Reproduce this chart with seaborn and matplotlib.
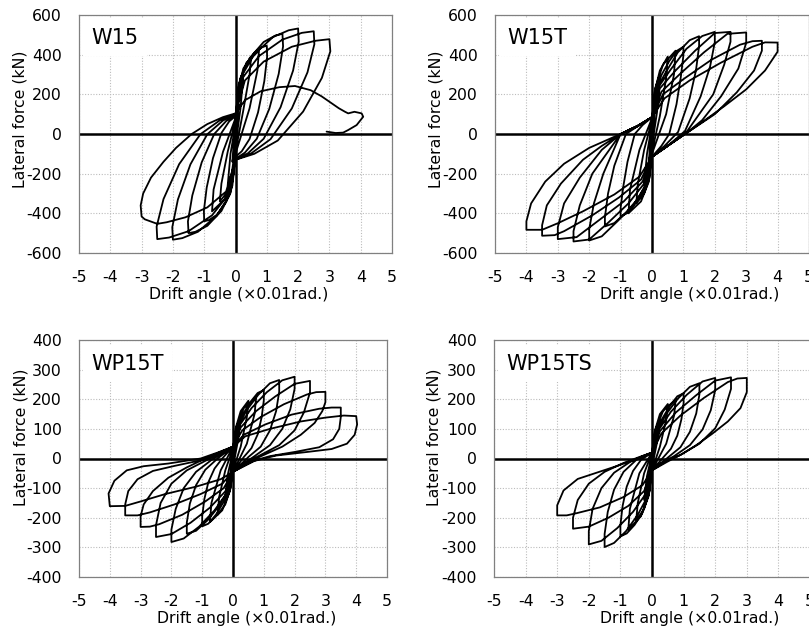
import matplotlib
matplotlib.use("Agg")
import matplotlib.pyplot as plt
import seaborn as sns

# ---------------- data (drift in 0.01 rad, lateral force in kN) ----------------
panel_names = ["W15", "W15T", "WP15T", "WP15TS"]
x_ticks = [-5, -4, -3, -2, -1, 0, 1, 2, 3, 4, 5]
y_ticks_W = [-600, -400, -200, 0, 200, 400, 600]
y_ticks_WP = [-400, -300, -200, -100, 0, 100, 200, 300, 400]

W15_path = [
    (0, 0),
    (0.05, 110), (0.1, 150), (0.06, 60), (0, -40), (-0.05, -100), (-0.1, -140), (-0.06, -50), (0, 30),
    (0.12, 230), (0.25, 300), (0.16, 130), (0, -60), (-0.12, -200), (-0.25, -260), (-0.16, -100), (0, 50),
    (0.08, 220), (0.25, 330), (0.5, 390), (0.45, 300), (0.25, 120), (0, -90),
    (-0.08, -220), (-0.25, -290), (-0.5, -340), (-0.45, -250), (-0.25, -90), (0, 70),
    (0.1, 240), (0.35, 360), (0.75, 420), (0.7, 320), (0.45, 130), (0, -100),
    (-0.1, -240), (-0.35, -330), (-0.75, -390), (-0.7, -280), (-0.4, -90), (0, 80),
    (0.1, 250), (0.3, 338), (0.6, 410), (0.85, 438), (1.0, 445), (1.01, 389), (0.92, 266), (0.72, 109),
    (0.45, -25), (0.2, -87), (0, -115),
    (-0.1, -261), (-0.3, -343), (-0.6, -408), (-0.85, -434), (-1.0, -440), (-1.01, -387), (-0.92, -270),
    (-0.72, -122), (-0.45, 5), (-0.2, 64), (0, 90),
    (0.15, 280), (0.45, 382), (0.9, 464), (1.28, 497), (1.5, 505), (1.52, 442), (1.38, 303), (1.08, 127),
    (0.68, -24), (0.3, -94), (0, -125),
    (-0.15, -294), (-0.45, -388), (-0.9, -463), (-1.28, -493), (-1.5, -500), (-1.52, -441), (-1.38, -310),
    (-1.08, -143), (-0.68, 0), (-0.3, 65), (0, 95),
    (0.2, 294), (0.6, 402), (1.2, 489), (1.7, 523), (2.0, 532), (2.02, 466), (1.84, 320), (1.44, 135),
    (0.9, -24), (0.4, -97), (0, -130),
    (-0.2, -311), (-0.6, -412), (-1.2, -493), (-1.7, -525), (-2.0, -533), (-2.02, -470), (-1.84, -330),
    (-1.44, -153), (-0.9, -1), (-0.4, 68), (0, 100),
    (0.25, 288), (0.75, 393), (1.5, 476), (2.12, 510), (2.5, 518), (2.52, 453), (2.3, 311), (1.8, 129),
    (1.12, -26), (0.5, -98), (0, -130),
    (-0.25, -310), (-0.75, -410), (-1.5, -490), (-2.12, -522), (-2.5, -530), (-2.52, -467), (-2.3, -328),
    (-1.8, -152), (-1.12, -1), (-0.5, 69), (0, 100),
    (0.3, 270), (0.9, 365), (1.8, 440), (2.55, 470), (3.0, 478), (3.03, 417), (2.76, 283), (2.16, 113),
    (1.35, -33), (0.6, -100), (0, -130),
    (-0.3, -290), (-0.9, -370), (-1.6, -420), (-2.2, -445), (-2.5, -453), (-2.9, -430), (-3.0, -416),
    (-3.03, -360), (-2.95, -300), (-2.7, -220), (-2.3, -140), (-1.9, -70), (-1.4, 0), (-0.9, 50),
    (-0.4, 85), (0, 104),
    (0.3, 170), (0.8, 215), (1.4, 236), (1.9, 242), (2.4, 221), (2.75, 190), (3.0, 163), (3.3, 130),
    (3.5, 112), (3.6, 104), (3.8, 112), (4.03, 104), (4.08, 87), (3.87, 45), (3.6, 20), (3.44, 7),
    (3.2, 5), (2.91, 12),
]

W15T_path = [
    (0, 0),
    (0.05, 100), (0.1, 150), (0.06, 50), (0, -40), (-0.05, -100), (-0.1, -140), (-0.06, -50), (0, 30),
    (0.12, 220), (0.25, 280), (0.16, 110), (0, -60), (-0.12, -200), (-0.25, -260), (-0.16, -100), (0, 50),
    (0.08, 210), (0.25, 320), (0.5, 390), (0.45, 280), (0.25, 90), (0, -90),
    (-0.08, -220), (-0.25, -300), (-0.5, -350), (-0.45, -250), (-0.25, -80), (0, 70),
    (0.1, 230), (0.35, 350), (0.75, 420), (0.7, 300), (0.45, 100), (0, -100),
    (-0.1, -240), (-0.35, -340), (-0.75, -400), (-0.7, -280), (-0.4, -80), (0, 80),
    (0.1, 208), (0.3, 297), (0.55, 368), (0.8, 420), (1.0, 440), (1.0, 396), (0.92, 290), (0.78, 150),
    (0.55, 0), (0.3, -60), (0, -115),
    (-0.1, -221), (-0.3, -295), (-0.55, -355), (-0.8, -400), (-1.0, -416), (-1.0, -374), (-0.92, -270),
    (-0.78, -140), (-0.55, 0), (-0.3, 45), (0, 85),
    (0.15, 228), (0.45, 314), (0.82, 411), (1.2, 473), (1.5, 493), (1.5, 444), (1.4, 320), (1.2, 180),
    (0.83, 10), (0.4, -60), (0, -115),
    (-0.15, -240), (-0.45, -326), (-0.82, -395), (-1.2, -449), (-1.5, -466), (-1.5, -420), (-1.4, -300),
    (-1.2, -160), (-0.83, 0), (-0.4, 45), (0, 85),
    (0.2, 236), (0.6, 326), (1.1, 430), (1.6, 494), (2.0, 515), (2.0, 463), (1.85, 340), (1.55, 190),
    (1.05, 15), (0.5, -60), (0, -115),
    (-0.2, -263), (-0.6, -360), (-1.1, -440), (-1.6, -516), (-2.0, -537), (-2.0, -480), (-1.85, -350),
    (-1.55, -200), (-1.0, 0), (-0.45, 42), (0, 85),
    (0.25, 230), (0.75, 320), (1.38, 421), (2.0, 509), (2.5, 515), (2.5, 465), (2.3, 350), (1.95, 200),
    (1.1, 10), (0.5, -60), (0, -115),
    (-0.25, -250), (-0.75, -350), (-1.38, -445), (-2.0, -532), (-2.5, -542), (-2.5, -490), (-2.3, -360),
    (-1.9, -200), (-1.0, 0), (-0.45, 42), (0, 85),
    (0.3, 213), (0.9, 304), (1.65, 411), (2.4, 505), (3.0, 512), (3.0, 460), (2.75, 330), (2.2, 190),
    (1.6, 70), (1.1, 5), (0.5, -60), (0, -115),
    (-0.3, -240), (-0.9, -340), (-1.65, -430), (-2.4, -520), (-3.0, -530), (-3.0, -470), (-2.8, -350),
    (-2.3, -220), (-1.6, -80), (-1.0, 0), (-0.45, 42), (0, 85),
    (0.35, 200), (1.05, 282), (1.9, 375), (2.8, 450), (3.2, 468), (3.5, 470), (3.5, 420), (3.25, 320),
    (2.7, 210), (2.0, 100), (1.1, 5), (0.5, -60), (0, -115),
    (-0.35, -230), (-1.05, -320), (-1.9, -410), (-2.8, -490), (-3.1, -510), (-3.5, -513), (-3.5, -460),
    (-3.35, -360), (-2.9, -250), (-2.2, -130), (-1.6, -60), (-1.0, 0), (-0.45, 40), (0, 85),
    (0.4, 180), (1.2, 270), (2.2, 360), (3.2, 440), (3.6, 462), (4.0, 461), (4.0, 415), (3.6, 320),
    (3.0, 225), (2.3, 140), (1.6, 60), (1.1, 5), (0.5, -60), (0, -115),
    (-0.4, -215), (-1.2, -305), (-2.2, -390), (-3.0, -450), (-3.5, -483), (-4.0, -483), (-4.0, -440),
    (-3.85, -350), (-3.4, -240), (-2.8, -150), (-2.0, -70), (-1.0, 0), (-0.45, 40), (0, 85),
]

WP15T_path = [
    (0, 0),
    (0.05, 60), (0.1, 80), (0.06, 30), (0, -20), (-0.05, -50), (-0.1, -70), (-0.06, -25), (0, 15),
    (0.12, 110), (0.25, 140), (0.16, 60), (0, -30), (-0.12, -100), (-0.25, -130), (-0.16, -50), (0, 25),
    (0.08, 100), (0.25, 160), (0.5, 195), (0.45, 140), (0.25, 40), (0, -40),
    (-0.08, -100), (-0.25, -155), (-0.5, -190), (-0.45, -130), (-0.25, -40), (0, 35),
    (0.1, 100), (0.35, 170), (0.75, 205), (0.7, 150), (0.45, 50), (0, -45),
    (-0.1, -110), (-0.35, -175), (-0.75, -215), (-0.7, -150), (-0.4, -40), (0, 40),
    (0.1, 96), (0.3, 145), (0.55, 189), (0.8, 221), (1.0, 231), (1.0, 196), (0.93, 139), (0.8, 81),
    (0.6, 35), (0.35, 5), (0, -45),
    (-0.1, -100), (-0.3, -146), (-0.55, -189), (-0.8, -220), (-1.0, -229), (-1.0, -195), (-0.93, -137),
    (-0.8, -80), (-0.6, -34), (-0.35, 0), (0, 40),
    (0.15, 106), (0.45, 164), (0.82, 215), (1.2, 254), (1.5, 265), (1.5, 225), (1.4, 160), (1.2, 95),
    (0.9, 40), (0.5, 5), (0, -45),
    (-0.15, -107), (-0.45, -160), (-0.82, -208), (-1.2, -244), (-1.5, -254), (-1.5, -216), (-1.4, -152),
    (-1.2, -90), (-0.9, -38), (-0.5, 0), (0, 40),
    (0.2, 110), (0.6, 170), (1.1, 224), (1.6, 264), (2.0, 276), (2.0, 235), (1.86, 166), (1.6, 100),
    (1.2, 45), (0.7, 8), (0.3, -20), (0, -45),
    (-0.2, -116), (-0.6, -175), (-1.1, -230), (-1.6, -270), (-2.0, -282), (-2.0, -240), (-1.86, -170),
    (-1.6, -100), (-1.2, -45), (-0.7, -5), (-0.3, 20), (0, 40),
    (0.25, 105), (0.75, 160), (1.38, 210), (2.0, 252), (2.5, 262), (2.5, 223), (2.3, 155), (2.0, 95),
    (1.5, 45), (0.9, 12), (0.4, -15), (0, -45),
    (-0.25, -111), (-0.75, -166), (-1.38, -217), (-2.0, -255), (-2.5, -265), (-2.5, -225), (-2.35, -150),
    (-2.0, -85), (-1.5, -40), (-0.9, -8), (-0.4, 18), (0, 40),
    (0.3, 95), (0.9, 140), (1.65, 183), (2.4, 216), (2.7, 224), (3.0, 225), (3.0, 190), (2.9, 160),
    (2.65, 120), (2.2, 80), (1.6, 40), (1.0, 12), (0.5, -12), (0, -45),
    (-0.3, -100), (-0.9, -145), (-1.65, -190), (-2.4, -222), (-2.7, -230), (-3.0, -231), (-3.0, -195),
    (-2.9, -155), (-2.6, -110), (-2.1, -65), (-1.5, -30), (-1.0, -5), (-0.5, 18), (0, 40),
    (0.35, 80), (1.05, 115), (1.9, 148), (2.8, 168), (3.2, 172), (3.5, 172), (3.5, 140), (3.45, 100),
    (3.25, 65), (2.8, 38), (2.0, 22), (1.2, 8), (0.6, -10), (0, -45),
    (-0.35, -85), (-1.05, -120), (-1.9, -155), (-2.7, -182), (-3.1, -192), (-3.5, -192), (-3.5, -155),
    (-3.4, -110), (-3.1, -70), (-2.6, -42), (-1.9, -25), (-1.0, -5), (-0.5, 15), (0, 40),
    (0.4, 75), (1.2, 100), (2.2, 125), (3.0, 138), (3.6, 145), (4.0, 143), (4.03, 115), (3.95, 80),
    (3.7, 50), (3.2, 32), (2.4, 22), (1.4, 10), (0.7, -8), (0, -45),
    (-0.4, -70), (-1.2, -95), (-2.2, -120), (-3.0, -145), (-3.5, -160), (-4.0, -161), (-4.04, -118),
    (-3.85, -75), (-3.45, -40), (-2.9, -26), (-2.1, -17), (-1.05, 0), (-0.5, 20), (0, 40),
]

WP15TS_path = [
    (0, 0),
    (0.05, 60), (0.1, 80), (0.06, 30), (0, -20), (-0.05, -55), (-0.1, -80), (-0.06, -30), (0, 10),
    (0.12, 100), (0.25, 130), (0.16, 55), (0, -30), (-0.12, -105), (-0.25, -140), (-0.16, -60), (0, 15),
    (0.08, 90), (0.25, 150), (0.5, 184), (0.45, 130), (0.25, 40), (0, -40),
    (-0.08, -110), (-0.25, -170), (-0.5, -209), (-0.45, -150), (-0.25, -50), (0, 20),
    (0.1, 95), (0.35, 160), (0.75, 200), (0.7, 145), (0.45, 50), (0, -40),
    (-0.1, -120), (-0.35, -195), (-0.75, -240), (-0.7, -170), (-0.4, -50), (0, 20),
    (0.1, 80), (0.3, 130), (0.55, 175), (0.8, 210), (1.0, 220), (1.0, 187), (0.93, 132), (0.8, 77),
    (0.6, 33), (0.35, 3), (0, -40),
    (-0.1, -125), (-0.3, -183), (-0.55, -224), (-0.8, -253), (-1.0, -263), (-1.0, -225), (-0.93, -160),
    (-0.8, -95), (-0.6, -42), (-0.35, -5), (0, 20),
    (0.15, 90), (0.45, 150), (0.82, 202), (1.2, 242), (1.5, 254), (1.5, 216), (1.4, 152), (1.2, 90),
    (0.9, 38), (0.5, 3), (0, -40),
    (-0.15, -130), (-0.45, -190), (-0.82, -245), (-1.2, -285), (-1.5, -299), (-1.5, -255), (-1.4, -180),
    (-1.2, -105), (-0.9, -45), (-0.5, -5), (0, 20),
    (0.2, 95), (0.6, 158), (1.1, 215), (1.6, 260), (2.0, 272), (2.0, 231), (1.86, 163), (1.6, 98),
    (1.2, 45), (0.7, 8), (0.3, -15), (0, -40),
    (-0.2, -120), (-0.6, -180), (-1.1, -235), (-1.6, -278), (-2.0, -290), (-2.0, -245), (-1.88, -170),
    (-1.6, -100), (-1.2, -48), (-0.7, -12), (-0.3, 8), (0, 20),
    (0.25, 92), (0.75, 155), (1.38, 212), (2.0, 263), (2.5, 274), (2.5, 235), (2.3, 165), (2.0, 102),
    (1.5, 50), (0.9, 12), (0.4, -12), (0, -40),
    (-0.25, -110), (-0.75, -160), (-1.38, -200), (-2.0, -230), (-2.5, -237), (-2.5, -200), (-2.35, -140),
    (-2.0, -85), (-1.5, -45), (-0.9, -15), (-0.4, 5), (0, 20),
    (0.3, 85), (0.9, 145), (1.65, 205), (2.4, 258), (2.7, 270), (3.0, 272), (3.0, 224), (2.8, 170),
    (2.4, 125), (1.9, 83), (1.4, 45), (0.95, 15), (0.5, -10), (0, -40),
    (-0.3, -90), (-0.9, -130), (-1.65, -165), (-2.4, -185), (-2.7, -192), (-3.0, -192), (-3.0, -158),
    (-2.8, -108), (-2.35, -69), (-1.7, -46), (-1.1, -25), (-0.5, -2), (0, 20),
]

paths = [W15_path, W15T_path, WP15T_path, WP15TS_path]
y_tick_sets = [y_ticks_W, y_ticks_W, y_ticks_WP, y_ticks_WP]

# ---------------- style ----------------
sns.set_style("white")
plt.rcParams["font.family"] = ["DejaVu Sans"]
plt.rcParams["axes.unicode_minus"] = False
plt.rcParams["text.color"] = "black"
plt.rcParams["axes.labelcolor"] = "black"

W, H = 809, 635
fig = plt.figure(figsize=(W / 100, H / 100), dpi=100)

# axes boxes in pixels: left, right, top, bottom
boxes = [(79, 392, 15, 253), (495, 809, 15, 253), (79, 387, 340, 577), (494, 810, 340, 577)]
xlabel_x = [0.511, 0.62, 0.545, 0.62]
ylabel_y = [0.56, 0.56, 0.59, 0.59]

for i in range(4):
    l, r, t, b = boxes[i]
    ax = fig.add_axes([l / W, (H - b) / H, (r - l) / W, (b - t) / H])
    xs = [p[0] for p in paths[i]]
    ys = [p[1] for p in paths[i]]
    ax.set_axisbelow(True)
    ax.grid(True, color="#bcbcbc", linestyle=(0, (1, 1.5)), linewidth=0.8)
    ax.axhline(0, color="black", lw=1.8, zorder=2)
    ax.axvline(0, color="black", lw=1.8, zorder=2)
    sns.lineplot(x=xs, y=ys, sort=False, estimator=None, color="black",
                 linewidth=1.3, ax=ax, zorder=3)
    yt = y_tick_sets[i]
    ax.set_xlim(-5, 5)
    ax.set_ylim(yt[0], yt[-1])
    ax.set_xticks(x_ticks)
    ax.set_yticks(yt)
    ax.set_xticklabels([str(v) for v in x_ticks])
    ax.set_yticklabels([str(v) for v in yt])
    ax.tick_params(length=0, pad=12.5, labelsize=11.3, colors="black", labelcolor="black")
    for s in ax.spines.values():
        s.set_color("#808080")
        s.set_linewidth(0.9)
    ax.set_xlabel("Drift angle (×0.01rad.)", fontsize=11.3, labelpad=1, color="black")
    ax.set_ylabel("Lateral force (kN)", fontsize=11.3, color="black")
    ax.xaxis.set_label_coords(xlabel_x[i], -0.143)
    ax.yaxis.set_label_coords(-0.165, ylabel_y[i])
    ax.text(0.04, 0.905 if i < 2 else 0.9, panel_names[i], transform=ax.transAxes,
            fontsize=15, ha="left", va="center", zorder=4, color="black",
            bbox=dict(facecolor="white", edgecolor="none", boxstyle="square,pad=0.4"))

fig.savefig("out.png", dpi=100)
